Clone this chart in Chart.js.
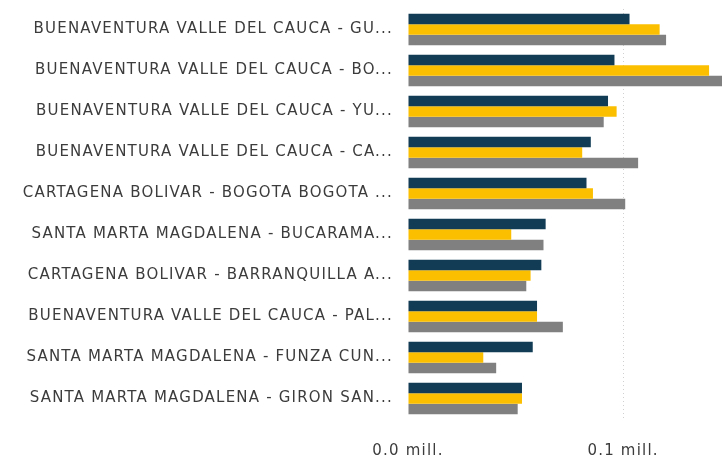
<!DOCTYPE html>
<html>
<head>
<meta charset="utf-8">
<script src="https://cdn.jsdelivr.net/npm/chart.js@4/dist/chart.umd.min.js"></script>
<style>
  html, body { margin: 0; padding: 0; background: #ffffff; }
  #wrap { width: 722px; height: 460px; position: relative; }
</style>
</head>
<body>
<div id="wrap"><canvas id="c" width="722" height="460"></canvas></div>
<script>
const categories = [
  "BUENAVENTURA VALLE DEL CAUCA - GU...",
  "BUENAVENTURA VALLE DEL CAUCA - BO...",
  "BUENAVENTURA VALLE DEL CAUCA - YU...",
  "BUENAVENTURA VALLE DEL CAUCA - CA...",
  "CARTAGENA BOLIVAR - BOGOTA BOGOTA ...",
  "SANTA MARTA MAGDALENA - BUCARAMA...",
  "CARTAGENA BOLIVAR - BARRANQUILLA A...",
  "BUENAVENTURA VALLE DEL CAUCA - PAL...",
  "SANTA MARTA MAGDALENA - FUNZA CUN...",
  "SANTA MARTA MAGDALENA - GIRON SAN..."
];
const serie1 = [0.103, 0.096, 0.093, 0.085, 0.083, 0.064, 0.062, 0.060, 0.058, 0.053];
const serie2 = [0.117, 0.140, 0.097, 0.081, 0.086, 0.048, 0.057, 0.060, 0.035, 0.053];
const serie3 = [0.120, 0.150, 0.091, 0.107, 0.101, 0.063, 0.055, 0.072, 0.041, 0.051];
const xTicks = [0, 0.1];

const spacing = {
  id: 'spacing',
  beforeUpdate(chart) { chart.ctx.letterSpacing = '1.2px'; },
  beforeDraw(chart) { chart.ctx.letterSpacing = '1.2px'; }
};

new Chart(document.getElementById('c'), {
  type: 'bar',
  data: {
    labels: categories,
    datasets: [
      { label: 'Serie 1', data: serie1, backgroundColor: '#123c55' },
      { label: 'Serie 2', data: serie2, backgroundColor: '#fbbf00' },
      { label: 'Serie 3', data: serie3, backgroundColor: '#808080' }
    ]
  },
  plugins: [spacing],
  options: {
    indexAxis: 'y',
    responsive: false,
    animation: false,
    layout: { padding: { top: 9, left: 0, right: 0, bottom: 0 } },
    datasets: { bar: { categoryPercentage: 0.772, barPercentage: 1.0, borderWidth: 0 } },
    plugins: { legend: { display: false }, tooltip: { enabled: false } },
    scales: {
      x: {
        min: 0, max: 0.146,
        afterBuildTicks(scale) { scale.ticks = xTicks.map(v => ({ value: v })); },
        afterFit(scale) { scale.height = 41; scale.paddingLeft = 0; scale.paddingRight = 0; },
        border: { display: false, dash: [1, 3] },
        grid: {
          color: ctx => (ctx.tick && ctx.tick.value === 0) ? 'rgba(0,0,0,0)' : '#d0d0d0',
          lineWidth: 1, drawTicks: false
        },
        ticks: {
          padding: 23,
          color: '#3c3c3c',
          font: { family: 'DejaVu Sans', size: 15 },
          callback: v => Number(v).toFixed(1) + ' mill.'
        }
      },
      y: {
        afterFit(scale) { scale.width = 408; scale.paddingTop = 0; scale.paddingBottom = 0; },
        border: { display: false },
        grid: { display: false, drawTicks: false },
        ticks: {
          padding: 15,
          color: '#3c3c3c',
          font: { family: 'DejaVu Sans', size: 15 },
          autoSkip: false
        }
      }
    }
  }
});
</script>
</body>
</html>
